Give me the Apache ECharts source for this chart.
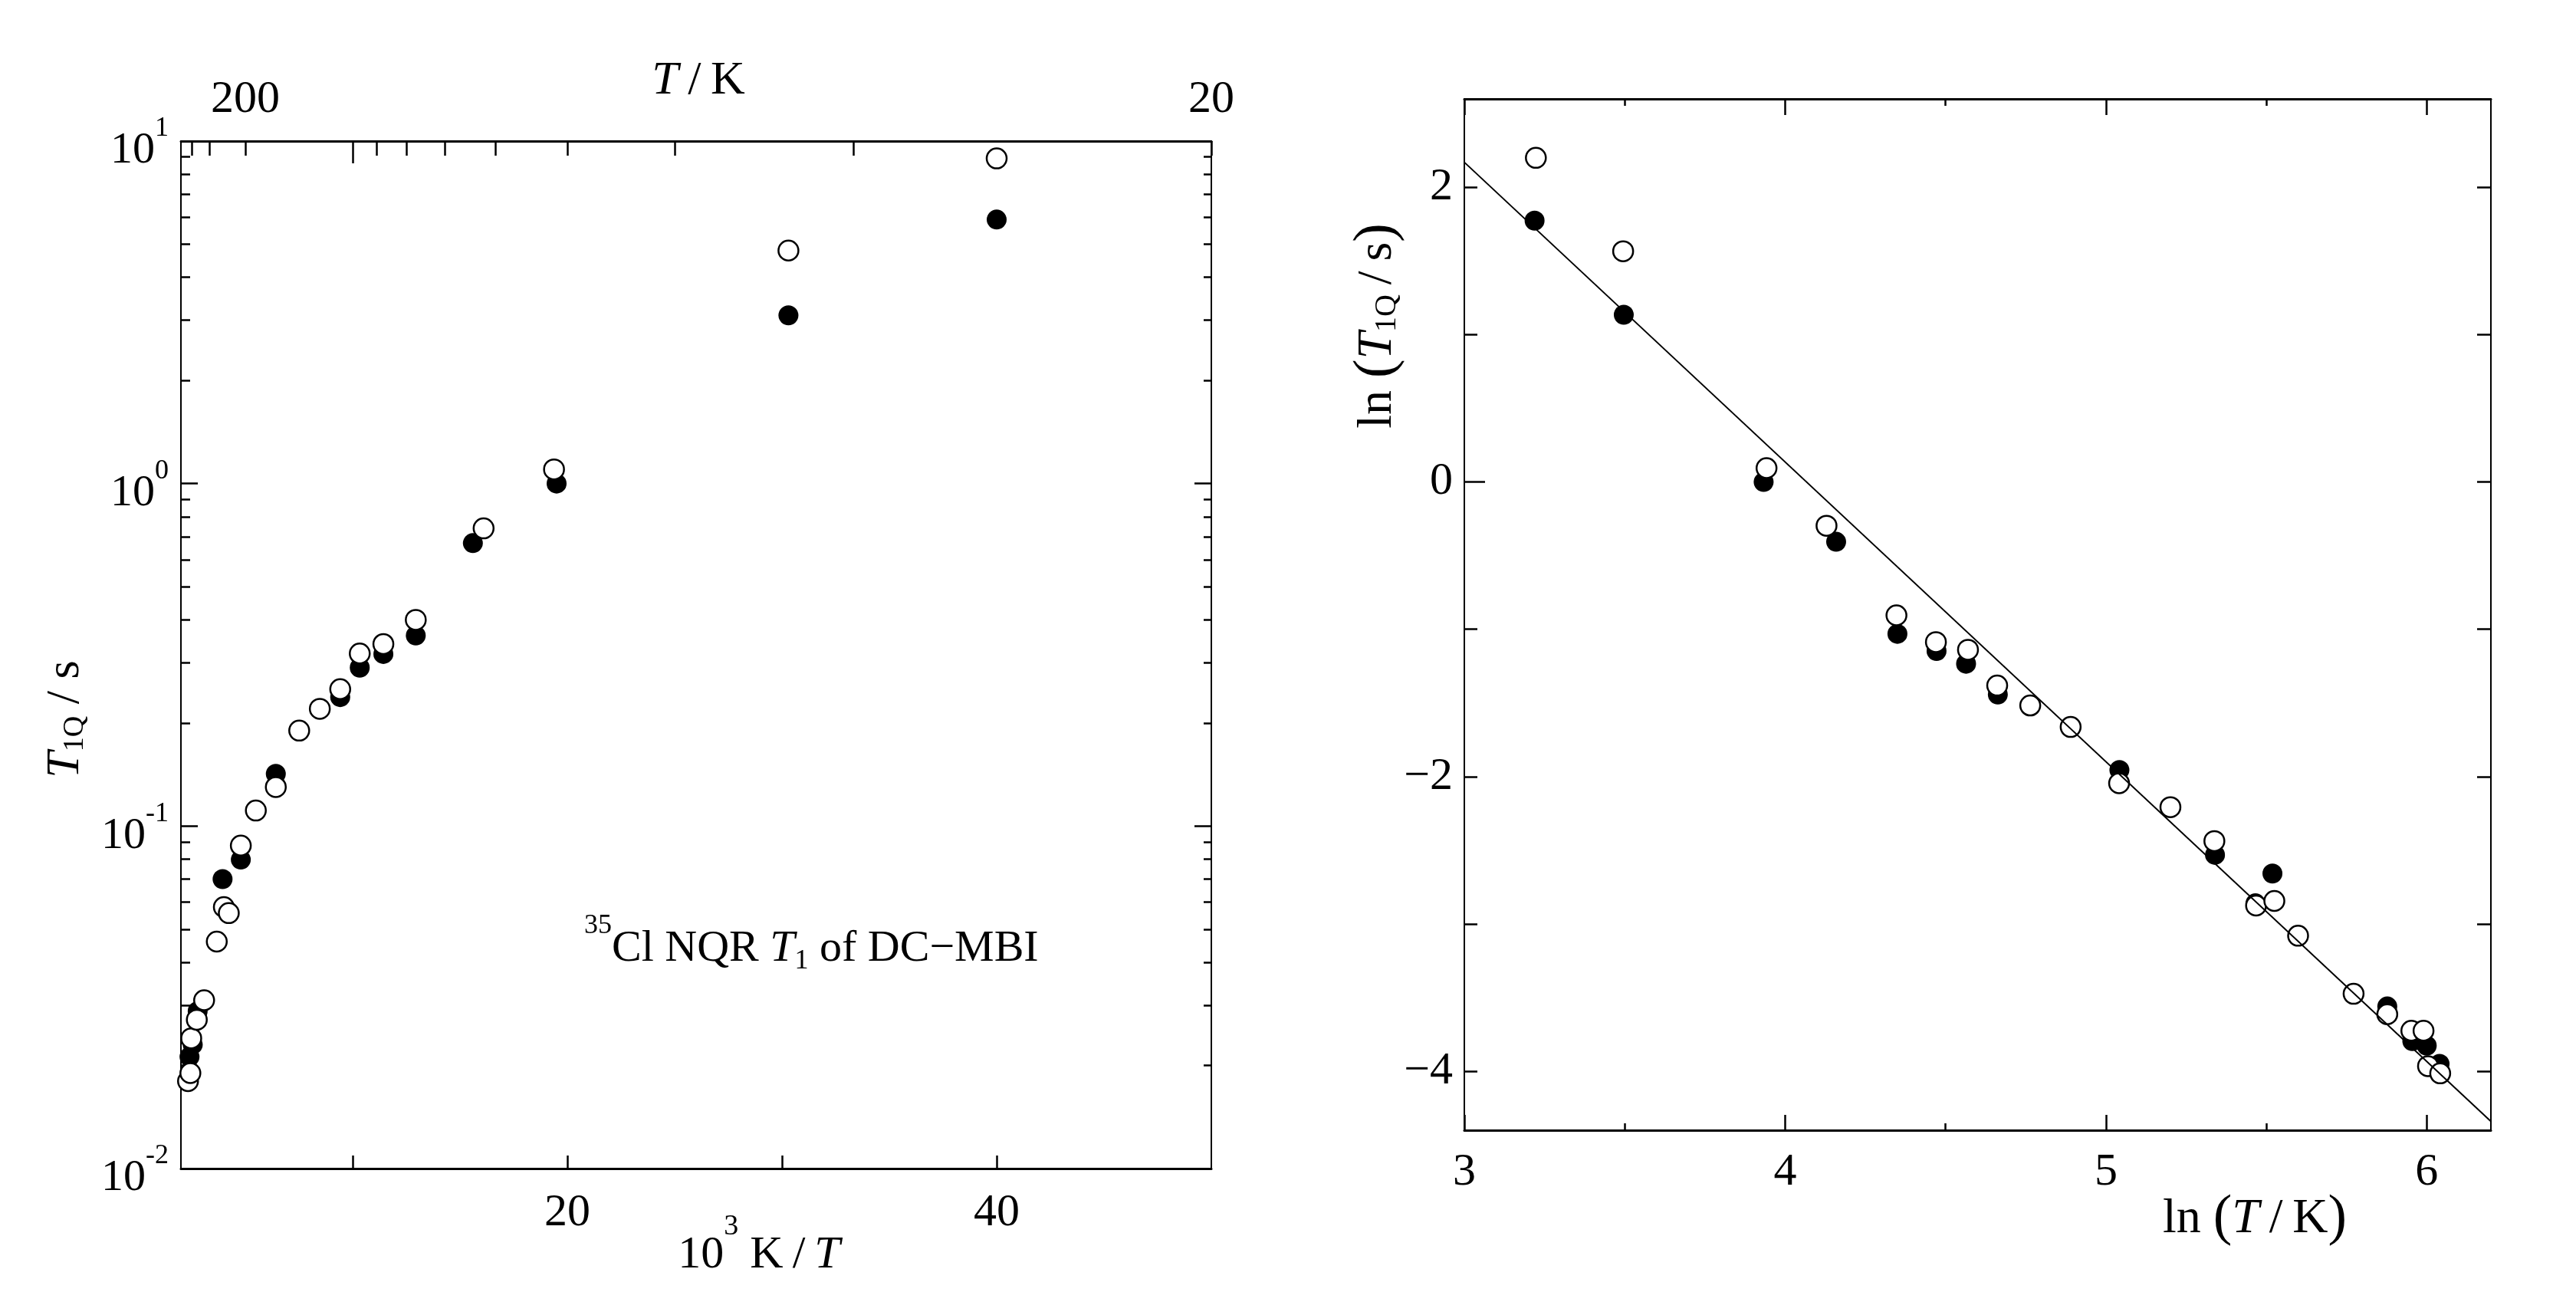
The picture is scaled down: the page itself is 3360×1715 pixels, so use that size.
<!DOCTYPE html>
<html>
<head>
<meta charset="utf-8">
<style>
  html, body { margin: 0; padding: 0; background: #fff; }
  #chart { width: 3360px; height: 1715px; }
</style>
<script src="https://cdn.jsdelivr.net/npm/echarts@6/dist/echarts.min.js"></script>
</head>
<body>
<div id="chart"></div>
<script>
const SERIF = '"Liberation Serif", "Times New Roman", Times, serif'

// left panel: 10^3 K / T against T1Q in s (log scale)
const leftFilledX = [2.40, 2.55, 2.78, 3.94, 4.2, 4.79, 6.42, 9.42, 10.33, 11.43, 12.94, 15.6, 19.5, 30.3, 40.0]
const leftFilledT1 = [0.0212, 0.0230, 0.0288, 0.070, 0.056, 0.0798, 0.142, 0.238, 0.29, 0.318, 0.36, 0.67, 1.0, 3.1, 5.9]
const leftOpenX = [2.33, 2.44, 2.48, 2.74, 3.08, 3.67, 4.0, 4.23, 4.79, 5.49, 6.42, 7.51, 8.47, 9.42, 10.33, 11.43, 12.94, 16.1, 19.38, 30.3, 40.0]
const leftOpenT1 = [0.018, 0.019, 0.024, 0.0272, 0.031, 0.046, 0.058, 0.0557, 0.0877, 0.111, 0.130, 0.19, 0.22, 0.251, 0.319, 0.34, 0.40, 0.74, 1.10, 4.79, 8.9]

// right panel: ln(T / K) against ln(T1Q / s)
const rightFilledX = [3.219, 3.497, 3.933, 4.159, 4.350, 4.472, 4.564, 4.663, 5.042, 5.340, 5.466, 5.519, 5.877, 5.955, 6.0, 6.04]
const rightFilledY = [1.774, 1.135, 0.0, -0.406, -1.031, -1.147, -1.234, -1.443, -1.955, -2.531, -2.86, -2.658, -3.56, -3.795, -3.826, -3.95]
const rightOpenX = [3.223, 3.495, 3.942, 4.129, 4.347, 4.470, 4.570, 4.661, 4.764, 4.890, 5.041, 5.201, 5.338, 5.468, 5.525, 5.599, 5.772, 5.877, 5.952, 5.990, 6.004, 6.042]
const rightOpenY = [2.20, 1.566, 0.094, -0.297, -0.905, -1.087, -1.139, -1.382, -1.517, -1.663, -2.045, -2.207, -2.4375, -2.875, -2.844, -3.080, -3.474, -3.613, -3.725, -3.725, -3.965, -4.014]

// the straight line drawn across the right panel
const fitLnT = [3.0, 6.2]
const fitLnT1 = [2.17, -4.34]

// ticks and tick labels
const topTempTicks = [400, 300, 200, 100, 90, 80, 70, 60, 50, 40, 30, 20]
const topTempLabels = [200, 20]
const bottomInvTicks = [10, 20, 30, 40]
const bottomInvLabels = [20, 40]
const decades = [-2, -1, 0, 1]
const lnTMajor = [3, 4, 5, 6]
const lnTMinor = [3.5, 4.5, 5.5]
const lnT1Ticks = [-4, -3, -2, -1, 0, 1, 2]
const lnT1Labels = [-4, -2, 0, 2]

const minorLog = []
decades.slice(0, -1).forEach(d => {
  for (let k = 2; k <= 9; k++) minorLog.push(d + Math.log10(k))
})

const pairs = (xs, ys, f) => xs.map((x, i) => [x, f ? f(ys[i]) : ys[i]])

function axis (o) {
  return {
    type: 'value',
    gridIndex: o.grid,
    position: o.pos,
    min: o.min,
    max: o.max,
    axisLine: { show: !!o.line, onZero: false, lineStyle: { color: '#000', width: o.line || 1 } },
    axisTick: { show: !!o.ticks, inside: true, length: o.len, customValues: o.ticks, lineStyle: { color: '#000', width: 2.5 } },
    axisLabel: o.labels
      ? Object.assign({ show: true, customValues: o.labels, color: '#000', fontFamily: SERIF, fontSize: 60 }, o.label)
      : { show: false },
    splitLine: { show: false }
  }
}

// rich text styles: normal, italic, big parens, superscript, subscript
const rich = (size, smallSize, up, down) => ({
  n: { fontFamily: SERIF, fontSize: size, color: '#000' },
  i: { fontFamily: SERIF, fontSize: size, fontStyle: 'italic', color: '#000' },
  p: { fontFamily: SERIF, fontSize: size * 1.15, color: '#000' },
  sup: { fontFamily: SERIF, fontSize: smallSize, color: '#000', padding: [0, 0, up * 2, 0] },
  sub: { fontFamily: SERIF, fontSize: smallSize, color: '#000', padding: [down * 2, 0, 0, 0] }
})

function text (x, y, str, r, extra, align) {
  return Object.assign({
    type: 'text',
    x,
    y,
    style: { text: str, rich: r, fill: '#000', fontFamily: SERIF, fontSize: 60, align: align || 'center', verticalAlign: 'middle' }
  }, extra)
}

const filled = { color: '#000', opacity: 1 }
const open = { color: '#fff', borderColor: '#000', borderWidth: 2.5, opacity: 1 }

const option = {
  backgroundColor: '#fff',
  animation: false,
  grid: [
    { left: 236, top: 184, width: 1344, height: 1340 },
    { left: 1910, top: 129, width: 1339, height: 1345 }
  ],
  xAxis: [
    axis({ grid: 0, pos: 'bottom', min: 2, max: 50, line: 3, ticks: bottomInvTicks, len: 17, labels: bottomInvLabels, label: { margin: 28 } }),
    axis({
      grid: 0, pos: 'top', min: 2, max: 50, line: 3,
      ticks: topTempTicks.map(t => 1000 / t), len: 19,
      labels: topTempLabels.map(t => 1000 / t),
      label: { margin: 24, formatter: v => String(Math.round(1000 / v)) }
    }),
    axis({ grid: 0, pos: 'top', min: 2, max: 50, ticks: [1000 / 100], len: 29 }),
    axis({ grid: 1, pos: 'bottom', min: 3, max: 6.2, line: 3, ticks: lnTMajor, len: 20, labels: lnTMajor, label: { margin: 25 } }),
    axis({ grid: 1, pos: 'bottom', min: 3, max: 6.2, ticks: lnTMinor, len: 9 }),
    axis({ grid: 1, pos: 'top', min: 3, max: 6.2, line: 3, ticks: lnTMajor, len: 21 }),
    axis({ grid: 1, pos: 'top', min: 3, max: 6.2, ticks: lnTMinor, len: 9 })
  ],
  yAxis: [
    axis({
      grid: 0, pos: 'left', min: -2, max: 1, line: 2, ticks: decades, len: 22, labels: decades,
      label: {
        margin: 16,
        padding: [26, 0, 0, 0],
        formatter: v => '{b|10}{s|' + v + '}',
        rich: {
          b: { fontFamily: SERIF, fontSize: 58, color: '#000' },
          s: { fontFamily: SERIF, fontSize: 36, color: '#000', padding: [0, 0, 58, 0] }
        }
      }
    }),
    axis({ grid: 0, pos: 'left', min: -2, max: 1, ticks: minorLog, len: 12 }),
    axis({ grid: 0, pos: 'right', min: -2, max: 1, line: 2, ticks: decades, len: 22 }),
    axis({ grid: 0, pos: 'right', min: -2, max: 1, ticks: minorLog, len: 10 }),
    axis({
      grid: 1, pos: 'left', min: -4.4, max: 2.6, line: 2, ticks: lnT1Ticks, len: 17, labels: lnT1Labels,
      label: { margin: 15, formatter: v => (v < 0 ? '\u2212' + (-v) : String(v)) }
    }),
    axis({ grid: 1, pos: 'left', min: -4.4, max: 2.6, ticks: [0], len: 27 }),
    axis({ grid: 1, pos: 'right', min: -4.4, max: 2.6, line: 2, ticks: lnT1Ticks, len: 18 })
  ],
  series: [
    {
      type: 'scatter', xAxisIndex: 0, yAxisIndex: 0, symbol: 'circle', symbolSize: 26,
      itemStyle: filled, data: pairs(leftFilledX, leftFilledT1, Math.log10)
    },
    {
      type: 'scatter', xAxisIndex: 0, yAxisIndex: 0, symbol: 'circle', symbolSize: 26,
      itemStyle: open, data: pairs(leftOpenX, leftOpenT1, Math.log10)
    },
    {
      type: 'line', xAxisIndex: 3, yAxisIndex: 4, showSymbol: false, symbol: 'none',
      lineStyle: { color: '#000', width: 2 }, data: pairs(fitLnT, fitLnT1)
    },
    {
      type: 'scatter', xAxisIndex: 3, yAxisIndex: 4, symbol: 'circle', symbolSize: 26,
      itemStyle: filled, data: pairs(rightFilledX, rightFilledY)
    },
    {
      type: 'scatter', xAxisIndex: 3, yAxisIndex: 4, symbol: 'circle', symbolSize: 26,
      itemStyle: open, data: pairs(rightOpenX, rightOpenY)
    }
  ],
  graphic: [
    text(911, 106, '{i|T}{n|\u2009/\u2009K}', rich(62, 38, 0, 0)),
    text(990, 1637, '{n|10}{sup|3}{n| K\u2009/\u2009}{i|T}', rich(60, 38, 37, 0)),
    text(86, 938, '{i|T}{sub|1Q}{n| / s}', rich(62, 38, 0, 12), { rotation: Math.PI / 2 }),
    text(762, 1238, '{sup|35}{n|Cl NQR }{i|T}{sub|1}{n| of DC\u2212MBI}', rich(58, 36, 30, 16), null, 'left'),
    text(2941, 1590, '{n|ln }{p|(}{i|T}{n|\u2009/\u2009K}{p|)}', rich(64, 40, 0, 0)),
    text(1797, 425, '{n|ln }{p|(}{i|T}{sub|1Q}{n|\u2009/\u2009s}{p|)}', rich(64, 40, 0, 12), { rotation: Math.PI / 2 })
  ]
}

const myChart = echarts.init(document.getElementById('chart'))
myChart.setOption(option)
</script>
</body>
</html>
